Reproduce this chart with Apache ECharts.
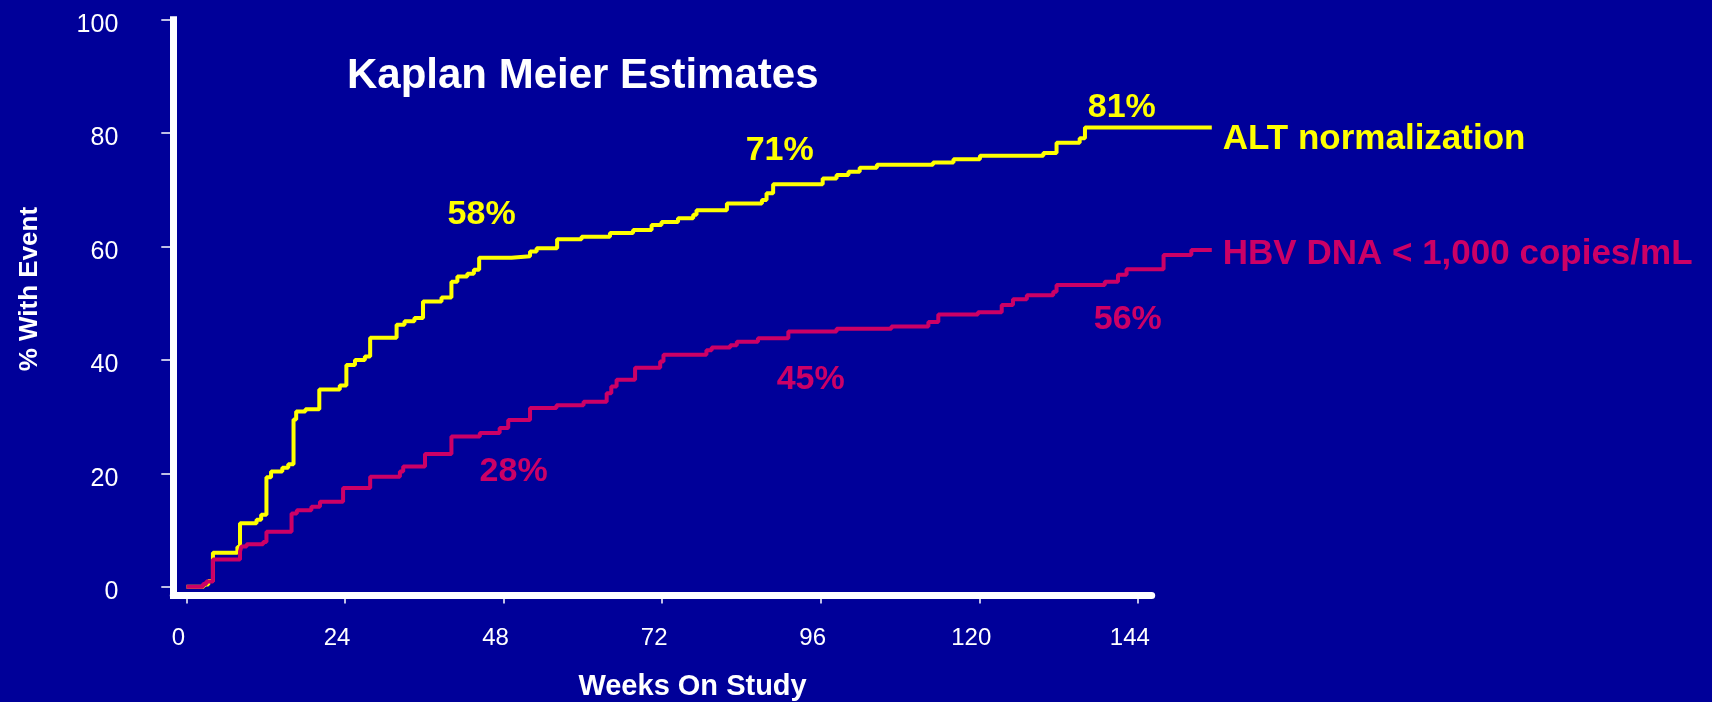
<!DOCTYPE html>
<html>
<head>
<meta charset="utf-8">
<title>Kaplan Meier Estimates</title>
<script src="https://cdn.jsdelivr.net/npm/echarts@6/dist/echarts.min.js"></script>
<style>
  html, body { margin: 0; padding: 0; background: #000099; }
  #chart { width: 1712px; height: 702px; }
</style>
</head>
<body>
<div id="chart"></div>
<script>
// Kaplan-Meier cumulative event curves (% with event by week on study)
const altWeeks = [0, 2.6, 3.3, 4.0, 7.7, 8.1, 10.6, 11.3, 12.1, 12.8, 14.5, 15.4, 16.2, 16.6, 18.0,
  20.1, 23.2, 24.2, 25.5, 27.0, 27.8, 31.8, 33.0, 34.5, 35.8, 38.6, 40.1, 41.0, 42.5, 43.5,
  44.3, 49.2, 52.0, 53.0, 56.1, 59.8, 64.1, 67.6, 70.4, 71.9, 74.4, 76.7, 77.2, 81.8, 87.1,
  87.8, 88.8, 96.3, 98.4, 100.2, 101.9, 104.5, 113.0, 116.1, 120.1, 129.7, 131.7, 135.2, 136.0, 155.2];
const altPct = [0, 0.4, 1.0, 6.0, 7.0, 11.2, 11.8, 12.7, 19.3, 20.3, 21.0, 21.6, 29.5, 30.9, 31.3,
  34.8, 35.5, 39.1, 40.0, 40.6, 43.9, 46.2, 46.8, 47.4, 50.3, 51.0, 53.8, 54.7, 55.2, 55.9,
  58.0, 58.3, 59.1, 59.7, 61.3, 61.7, 62.4, 62.9, 63.8, 64.3, 65.0, 65.6, 66.4, 67.6, 68.2,
  69.4, 71.0, 72.0, 72.6, 73.2, 73.9, 74.4, 74.8, 75.4, 76.0, 76.5, 78.3, 79.1, 81.0, 81.0];

const hbvWeeks = [0, 2.5, 3.0, 4.0, 8.1, 8.3, 9.1, 11.6, 12.1, 15.9, 16.7, 18.9, 20.2, 23.7, 27.8,
  32.3, 32.8, 36.1, 40.1, 44.4, 47.4, 48.7, 52.0, 56.0, 60.1, 63.6, 64.3, 65.1, 67.9, 71.7,
  72.2, 78.7, 79.5, 82.3, 83.3, 86.5, 91.1, 98.4, 106.7, 112.3, 113.8, 119.8, 123.4, 125.1, 127.2,
  131.2, 131.7, 139.0, 141.0, 142.3, 147.9, 152.1, 155.2];
const hbvPct = [0, 0.5, 0.9, 4.8, 6.2, 7.1, 7.5, 7.9, 9.7, 12.9, 13.5, 14.1, 15.0, 17.4, 19.4,
  20.3, 21.2, 23.4, 26.5, 27.1, 28.0, 29.4, 31.5, 32.0, 32.6, 34.1, 35.3, 36.5, 38.6, 39.7,
  40.9, 41.7, 42.2, 42.6, 43.2, 43.8, 45.0, 45.5, 45.9, 46.7, 48.0, 48.4, 49.7, 50.7, 51.4,
  52.0, 53.2, 53.8, 55.0, 56.0, 58.5, 59.4, 59.4];

// Estimates called out at weeks 48, 96 and 144
const milestoneWeeks = [48, 96, 144];
const altMilestones = [58, 71, 81];
const hbvMilestones = [28, 45, 56];

const seriesNames = ['ALT normalization', 'HBV DNA < 1,000 copies/mL'];
const xTicks = [0, 24, 48, 72, 96, 120, 144];
const yTicks = [0, 20, 40, 60, 80, 100];

const YELLOW = '#FFFF00';
const MAGENTA = '#CC0066';
const FONT = '"Liberation Sans", Arial, Helvetica, sans-serif';

const zip = (xs, ys) => xs.map((x, i) => [x, ys[i]]);

// label offsets (px) for the call-out percentages
const altOffsets = [[-22, -43], [-41, -34], [-16, -20]];
const hbvOffsets = [[10, 44], [-10, 48], [-10, 50]];

function milestoneSeries(values, offsets, color) {
  return {
    type: 'scatter',
    xAxisIndex: 0,
    yAxisIndex: 0,
    clip: false,
    symbolSize: 0,
    itemStyle: { color: color },
    silent: true,
    z: 5,
    data: milestoneWeeks.map((w, i) => ({
      value: [w, values[i]],
      label: {
        show: true,
        position: [0, 0],
        offset: offsets[i],
        formatter: values[i] + '%',
        color: color,
        opacity: 1,
        textBorderWidth: 0,
        fontSize: 34,
        fontWeight: 'bold',
        fontFamily: FONT,
        align: 'center',
        verticalAlign: 'middle'
      }
    }))
  };
}

const chart = echarts.init(document.getElementById('chart'), null, { renderer: 'canvas' });

const plotTop = 19.7;
const plotHeight = 575.8;
const plotLeft = 173.3;

chart.setOption({
  animation: false,
  backgroundColor: '#000099',
  textStyle: { fontFamily: FONT },
  title: {
    text: 'Kaplan Meier Estimates',
    left: 347,
    top: 55,
    padding: 0,
    textStyle: { color: '#ffffff', fontSize: 42, fontWeight: 'bold', fontFamily: FONT }
  },
  grid: [
    // plotting area: curves run out to week ~155 where the series names sit
    { left: plotLeft, top: plotTop, width: 1038.5, height: plotHeight, containLabel: false, outerBoundsMode: 'none' },
    // frame for the shorter horizontal axis line (ends just past week 144)
    { left: plotLeft, top: plotTop, width: 978.4, height: plotHeight, containLabel: false, outerBoundsMode: 'none' }
  ],
  xAxis: [
    {
      gridIndex: 0,
      type: 'value',
      min: -2,
      max: 155.2,
      name: 'Weeks On Study',
      nameLocation: 'middle',
      nameGap: 77,
      nameTextStyle: { color: '#ffffff', fontSize: 29, fontWeight: 'bold', fontFamily: FONT },
      splitLine: { show: false },
      axisLine: { show: false, onZero: false },
      axisTick: { customValues: xTicks, length: 8, lineStyle: { color: '#ffffff', width: 1.5 } },
      axisLabel: {
        customValues: xTicks,
        color: '#ffffff', fontSize: 24, fontFamily: FONT,
        margin: 31,
        padding: [0, 16, 0, 0]
      }
    },
    {
      gridIndex: 1,
      type: 'value',
      min: -2,
      max: 146.1,
      splitLine: { show: false },
      axisLine: { onZero: false, lineStyle: { color: '#ffffff', width: 7 } },
      axisTick: { show: false },
      axisLabel: { show: false }
    }
  ],
  yAxis: [
    {
      gridIndex: 0,
      type: 'value',
      min: -1.55,
      max: 100,
      name: '% With Event',
      nameLocation: 'middle',
      nameGap: 130,
      nameTextStyle: {
        color: '#ffffff', fontSize: 26, fontWeight: 'bold', fontFamily: FONT,
        padding: [0, 0, 0, 37]
      },
      splitLine: { show: false },
      axisLine: { onZero: false, lineStyle: { color: '#ffffff', width: 7, cap: 'square' } },
      axisTick: { customValues: yTicks, length: 12, lineStyle: { color: '#ffffff', width: 1.5 } },
      axisLabel: {
        customValues: yTicks,
        margin: 55,
        formatter: '{v|{value}}',
        rich: {
          // taller line box with the digits sitting at its bottom: nudges them just below the tick
          v: {
            color: '#ffffff', fontSize: 25, fontFamily: FONT,
            lineHeight: 36, verticalAlign: 'bottom'
          }
        }
      }
    },
    {
      gridIndex: 1,
      type: 'value',
      min: -1.55,
      max: 100,
      show: false
    }
  ],
  series: [
    {
      name: seriesNames[0],
      type: 'line',
      xAxisIndex: 0,
      yAxisIndex: 0,
      step: 'end',
      clip: false,
      showSymbol: false,
      z: 3,
      lineStyle: { color: YELLOW, width: 4 },
      itemStyle: { color: YELLOW },
      data: zip(altWeeks, altPct),
      endLabel: {
        show: true,
        formatter: '{a}',
        distance: 11,
        offset: [0, 12],
        color: YELLOW,
        fontSize: 35,
        fontWeight: 'bold',
        fontFamily: FONT
      }
    },
    {
      name: seriesNames[1],
      type: 'line',
      xAxisIndex: 0,
      yAxisIndex: 0,
      step: 'end',
      clip: false,
      showSymbol: false,
      z: 4,
      lineStyle: { color: MAGENTA, width: 4 },
      itemStyle: { color: MAGENTA },
      data: zip(hbvWeeks, hbvPct),
      endLabel: {
        show: true,
        formatter: '{a}',
        distance: 11,
        offset: [0, 4.5],
        color: MAGENTA,
        fontSize: 35,
        fontWeight: 'bold',
        fontFamily: FONT
      }
    },
    milestoneSeries(altMilestones, altOffsets, YELLOW),
    milestoneSeries(hbvMilestones, hbvOffsets, MAGENTA)
  ]
});
</script>
</body>
</html>
